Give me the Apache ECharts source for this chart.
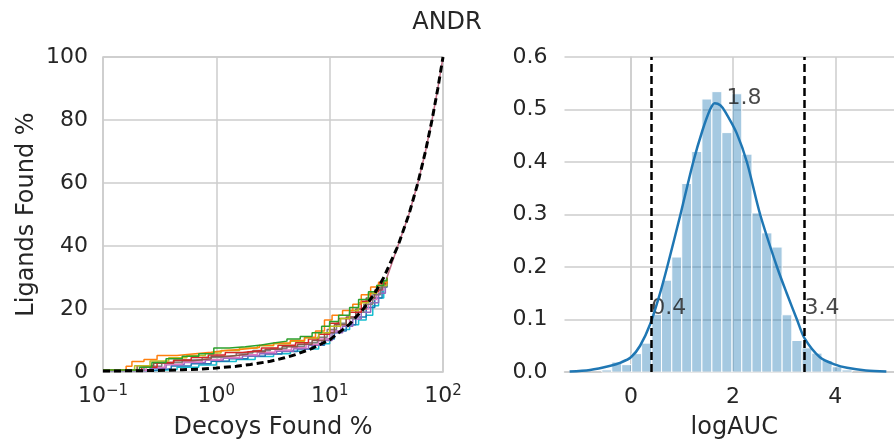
<!DOCTYPE html>
<html>
<head>
<meta charset="utf-8">
<script src="https://cdn.jsdelivr.net/npm/echarts@6/dist/echarts.min.js"></script>
<style>
html,body{margin:0;padding:0;background:#fff;}
#main{width:894px;height:447px;}
</style>
</head>
<body>
<div id="main"></div>
<script>
// left panel: enrichment curves (decoys % vs ligands %)
var curveGreen  = [[0.1,0.6],[0.21,1.5],[0.27,3],[0.36,4.2],[0.5,5],[0.7,5.8],[0.95,7.6],[1.3,8],[1.8,8.6],[2.5,9.2],[3.2,9.8],[4.2,10.5],[5.5,11.3],[7,12.5],[8.5,14.5],[10,16],[12,18],[15,20.5],[18,23],[22,25.5],[26,27.5],[30,29],[32,30]];
var curveOrange = [[0.1,0.6],[0.16,1.8],[0.18,3.3],[0.23,4],[0.3,5.2],[0.45,5.8],[0.65,6.3],[0.9,6.8],[1.2,7.2],[1.7,7.8],[2.4,8.5],[3.2,9.2],[4.5,10],[6,11],[7.5,13],[9,16.5],[10.5,18],[13,19.5],[16,21.5],[19,24.5],[23,27],[27,28.5],[32,30]];
var curveOlive  = [[0.1,0.6],[0.19,2],[0.26,3.5],[0.38,4.5],[0.55,5.2],[0.8,6],[1.1,6.8],[1.6,7.6],[2.3,8.3],[3.2,9],[4.5,9.8],[6,10.8],[8,12.5],[10,14.5],[12.5,17],[15,19.5],[18,22],[22,25],[26,27.5],[32,30]];
var curveRed    = [[0.1,0.6],[0.22,1.5],[0.3,3],[0.42,3.8],[0.6,4.6],[0.85,5.4],[1.2,6.2],[1.7,6.8],[2.5,7.6],[3.5,8.5],[5,9.3],[6.5,10.5],[8,12],[10,15.5],[12,17],[15,19],[19,22.5],[23,25.5],[27,28],[32,30]];
var curveBrown  = [[0.1,0.6],[0.2,2],[0.28,2.8],[0.42,3.6],[0.62,4.2],[0.9,5],[1.3,5.6],[1.9,6.4],[2.7,7.2],[3.8,8],[5.2,8.8],[7,10],[9,12.5],[11,15],[14,17.5],[17,20],[21,23.5],[25,26],[29,28],[32,30]];
var curveGray   = [[0.1,0.5],[0.23,1.8],[0.33,3],[0.5,3.8],[0.75,4.6],[1.05,5.2],[1.5,6],[2.1,6.8],[3,7.5],[4.2,8.2],[6,9.3],[7.8,11],[9.5,13.5],[11.5,15.5],[14,17],[17,19],[20,21.5],[24,24.5],[28,27],[32,30]];
var curvePink   = [[0.1,0.5],[0.24,1.5],[0.35,2.5],[0.5,3.2],[0.75,3.9],[1.1,4.6],[1.6,5.5],[2.3,6.3],[3.3,7],[4.6,7.8],[6.2,8.8],[8,10.5],[10,13],[12.5,15],[15,17.5],[18,20],[22,23],[26,26],[30,28.5],[32,30]];
var curvePurple = [[0.1,0.5],[0.26,1.2],[0.36,2.3],[0.52,3],[0.8,3.7],[1.15,4.4],[1.7,5.1],[2.4,5.8],[3.4,6.6],[4.8,7.4],[6.5,8.5],[8.5,10],[10.5,12.5],[13,14.5],[16,16.8],[19,19],[23,22],[27,25],[31,28.5],[32,30]];
var curveBlue   = [[0.1,0.5],[0.28,1],[0.4,1.9],[0.6,2.6],[0.9,3.4],[1.3,4.2],[1.9,5],[2.7,5.7],[3.8,6.5],[5.2,7.3],[7,8.5],[9,10.5],[11,13],[14,15],[17,17.5],[21,20.5],[25,23.5],[29,27],[32,30]];
var curveCyan   = [[0.1,0.5],[0.3,0.8],[0.45,1.5],[0.7,2.2],[1,3.3],[1.5,4],[2.2,4.9],[3.2,5.8],[4.5,6.6],[6,7.3],[8,9],[10,12.5],[12.5,13.5],[15,15],[18,16.5],[21,18],[24,21],[27,23.5],[30,27],[32,30]];
var curveTail   = [[32,30],[40,40],[50,50],[60,60],[70,70],[80,80],[90,90],[100,100]];
var randomX = [0.1,0.2,0.3,0.5,0.7,1,1.5,2,3,4,5,7,10,15,20,25,30,40,50,60,70,80,90,100];
var randomY = [0.3,0.4,0.5,0.7,0.9,1.3,1.8,2.4,3.4,4.5,5.5,7.5,10.2,15.2,20.2,25,30,40,50,60,70,80,90,100];

// right panel: logAUC histogram + kde
var binEdges = [-0.57,-0.375,-0.18,0.015,0.21,0.41,0.60,0.80,0.995,1.19,1.39,1.585,1.78,1.98,2.17,2.37,2.56,2.76,2.96,3.15,3.35,3.54,3.74,3.94,4.13,4.33];
var binHeights = [0.004,0.019,0.014,0.035,0.055,0.11,0.175,0.219,0.359,0.42,0.52,0.534,0.456,0.53,0.415,0.303,0.265,0.238,0.109,0.06,0.046,0.036,0.022,0.01,0.004];
var kdeX = [-1.2,-0.8,-0.4,-0.2,0.0,0.18,0.38,0.57,0.71,0.97,1.22,1.4,1.55,1.64,1.75,1.85,2.07,2.27,2.53,2.86,3.05,3.25,3.4,3.7,4.0,4.23,4.6,5.0];
var kdeY = [0.001,0.004,0.012,0.018,0.028,0.05,0.092,0.15,0.2,0.3,0.4,0.46,0.5,0.512,0.508,0.495,0.455,0.4,0.3,0.2,0.15,0.1,0.064,0.028,0.014,0.008,0.003,0.001];
var cutoffs = [0.4,3.4];
var notes = [[0.4,0.1,'0.4'],[3.4,0.1,'3.4'],[1.87,0.5,'1.8']];
var logAucTicks = [0,2,4];

var txt = '#262626';
var gridCol = '#cccccc';
var font = 'DejaVu Sans';

var myChart = echarts.init(document.getElementById('main'));

function stepSeries(data, color) {
	return {
		type: 'line', xAxisIndex: 0, yAxisIndex: 0,
		step: 'end', data: data, symbol: 'none', silent: true,
		lineStyle: {color: color, width: 1.5}
	};
}

var hist = [];
for (var i = 0; i < binHeights.length; i++) {
	hist.push([binEdges[i], binEdges[i + 1], binHeights[i]]);
}
var kde = kdeX.map(function (x, i) { return [x, kdeY[i]]; });
var randomLine = randomX.map(function (x, i) { return [x, randomY[i]]; });

var series = [
	stepSeries(curveCyan, '#17becf'),
	stepSeries(curveBlue, '#1f77b4'),
	stepSeries(curvePurple, '#9467bd'),
	stepSeries(curvePink, '#e377c2'),
	stepSeries(curveGray, '#7f7f7f'),
	stepSeries(curveBrown, '#8c564b'),
	stepSeries(curveRed, '#d62728'),
	stepSeries(curveOlive, '#bcbd22'),
	stepSeries(curveOrange, '#ff7f0e'),
	stepSeries(curveGreen, '#2ca02c'),
	{
		type: 'line', xAxisIndex: 0, yAxisIndex: 0, data: curveTail, symbol: 'none',
		lineStyle: {color: '#c06c84', width: 1.5}
	},
	{
		type: 'line', xAxisIndex: 0, yAxisIndex: 0, data: randomLine, symbol: 'none',
		lineStyle: {color: '#000', width: 3, type: [7, 4]}
	},
	{
		type: 'custom', xAxisIndex: 1, yAxisIndex: 1, data: hist, silent: true,
		renderItem: function (params, api) {
			var p0 = api.coord([api.value(0), api.value(2)]);
			var p1 = api.coord([api.value(1), 0]);
			return {
				type: 'rect',
				shape: {x: p0[0], y: p0[1], width: p1[0] - p0[0], height: p1[1] - p0[1]},
				style: {fill: 'rgba(31,119,180,0.4)', stroke: '#fff', lineWidth: 1}
			};
		}
	},
	{
		type: 'line', xAxisIndex: 1, yAxisIndex: 1, data: kde, symbol: 'none', smooth: 0.3,
		lineStyle: {color: '#1f77b4', width: 2.5},
		markLine: {
			symbol: 'none', silent: true, label: {show: false},
			lineStyle: {color: '#000', width: 2.5, type: [8, 4]},
			data: cutoffs.map(function (c) { return {xAxis: c}; })
		}
	},
	{
		type: 'scatter', xAxisIndex: 1, yAxisIndex: 1, symbolSize: 0, silent: true,
		data: notes.map(function (n) { return {value: [n[0], n[1]], name: n[2]}; }),
		label: {
			show: true, position: [0, 0], align: 'left', verticalAlign: 'bottom',
			formatter: '{b}', color: '#1a1a1a', fontSize: 22, fontFamily: font
		}
	}
];

var option = {
	animation: false,
	backgroundColor: '#fff',
	title: {
		text: 'ANDR', left: 'center', top: 6,
		textStyle: {color: txt, fontSize: 24, fontWeight: 'normal', fontFamily: font}
	},
	grid: [
		{left: 103, top: 57, width: 340, height: 315, show: true, borderColor: gridCol, borderWidth: 1.5},
		{left: 564.5, top: 57, right: 0, height: 315}
	],
	xAxis: [
		{
			type: 'log', logBase: 10, min: 0.1, max: 100, gridIndex: 0,
			name: 'Decoys Found %', nameLocation: 'middle', nameGap: 44,
			nameTextStyle: {color: txt, fontSize: 24, fontFamily: font},
			axisLine: {show: false}, axisTick: {show: false},
			splitLine: {show: true, lineStyle: {color: gridCol, width: 1.5}},
			minorTick: {show: false},
			axisLabel: {
				margin: 12, color: txt, fontFamily: font,
				formatter: function (v) {
					var e = Math.round(Math.log10(v));
					return '{b|10}{s|' + String(e).replace('-', '\u2212') + '}';
				},
				rich: {
					b: {fontSize: 22, color: txt, fontFamily: font, lineHeight: 24},
					s: {fontSize: 15, color: txt, fontFamily: font, lineHeight: 8, verticalAlign: 'top'}
				}
			}
		},
		{
			type: 'value', min: -1.3, max: 5.15, gridIndex: 1,
			name: 'logAUC', nameLocation: 'middle', nameGap: 44,
			nameTextStyle: {color: txt, fontSize: 24, fontFamily: font, padding: [0, 0, 0, 10]},
			axisLine: {show: true, onZero: false, lineStyle: {color: gridCol, width: 1.5}},
			axisTick: {show: false, customValues: logAucTicks},
			splitLine: {show: true, lineStyle: {color: gridCol, width: 1.5}},
			axisLabel: {margin: 14, color: txt, fontSize: 22, fontFamily: font, customValues: logAucTicks}
		}
	],
	yAxis: [
		{
			type: 'value', min: 0, max: 100, interval: 20, gridIndex: 0,
			name: 'Ligands Found %', nameLocation: 'middle', nameGap: 64,
			nameTextStyle: {color: txt, fontSize: 24, fontFamily: font},
			axisLine: {show: false}, axisTick: {show: false},
			splitLine: {show: true, lineStyle: {color: gridCol, width: 1.5}},
			axisLabel: {margin: 15, color: txt, fontSize: 22, fontFamily: font}
		},
		{
			type: 'value', min: 0, max: 0.6, interval: 0.1, gridIndex: 1,
			axisLine: {show: true, lineStyle: {color: gridCol, width: 1.5}},
			axisTick: {show: false},
			splitLine: {show: true, lineStyle: {color: gridCol, width: 1.5}},
			axisLabel: {
				margin: 17, color: txt, fontSize: 22, fontFamily: font,
				formatter: function (v) { return v.toFixed(1); }
			}
		}
	],
	series: series
};
myChart.setOption(option);
</script>
</body>
</html>
